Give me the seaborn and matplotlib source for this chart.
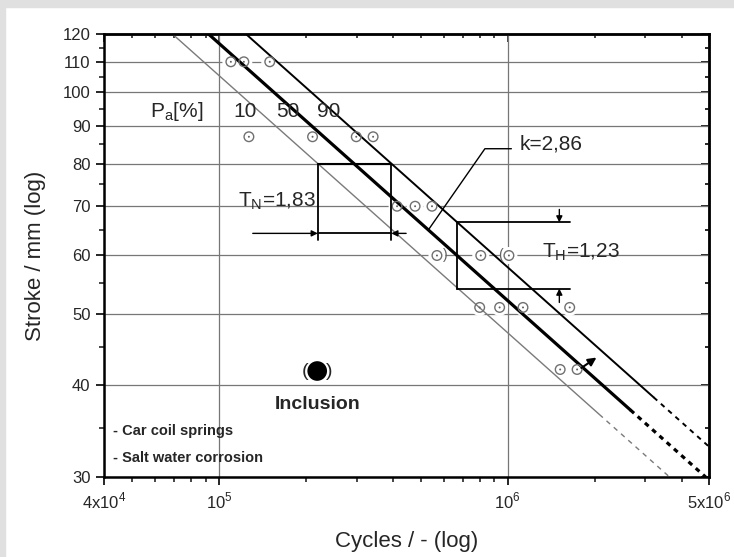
import numpy as np
import pandas as pd
import matplotlib
matplotlib.use('Agg')
import matplotlib.pyplot as plt
import seaborn as sns
from matplotlib.patches import Rectangle
from matplotlib.ticker import FixedLocator, NullFormatter

# test results: stroke level (mm) and cycles to failure
stroke = [110, 110, 110, 87, 87, 87, 87, 70, 70, 70, 60, 60, 60, 51, 51, 51, 51, 42, 42]
cycles = [1.10e5, 1.22e5, 1.50e5, 1.27e5, 2.11e5, 2.99e5, 3.42e5, 4.14e5, 4.78e5, 5.47e5,
          5.69e5, 8.07e5, 1.01e6, 8.0e5, 9.38e5, 1.13e6, 1.64e6, 1.52e6, 1.74e6]

# inclusion failure
incl_cycles = 2.19e5
incl_stroke = 41.8

# S-N lines for Pa = 10 / 50 / 90 %
levels = ["10", "50", "90"]
n_at_120 = [6.9e4, 9.2e4, 1.24e5]
solid_end = [36.5, 37.0, 38.5]
k_slope = 2.86
t_n = 1.83
t_h = 1.23

y_ticks = [30, 40, 50, 60, 70, 80, 90, 100, 110, 120]
y_minor = [35, 45, 55, 65, 75, 85, 95, 105, 115]
x_ticks = [4e4, 1e5, 1e6, 5e6]
x_labels = ['4x10$^\\mathregular{4}$', '10$^\\mathregular{5}$', '10$^\\mathregular{6}$', '5x10$^\\mathregular{6}$']
x_minor = [5e4, 6e4, 7e4, 8e4, 9e4, 2e5, 3e5, 4e5, 5e5, 6e5, 7e5, 8e5, 9e5, 2e6, 3e6, 4e6]


def n_at(i, s):
    return n_at_120[i] * (120.0 / s) ** k_slope


sns.set_style('white')
plt.rcParams['font.family'] = ['Liberation Sans', 'DejaVu Sans']
plt.rcParams['mathtext.fontset'] = 'custom'
plt.rcParams['mathtext.rm'] = 'Liberation Sans'
plt.rcParams['lines.scale_dashes'] = False

fig = plt.figure(figsize=(7.34, 5.57), dpi=100)
ax = fig.add_axes([0.1417, 0.1436, 0.9666 - 0.1417, 0.939 - 0.1436])

# screenshot frame (top / left)
fig.patches.append(Rectangle((0, 1 - 7 / 557), 1, 7 / 557, transform=fig.transFigure, color='#e0e0e0', zorder=-1))
fig.patches.append(Rectangle((0, 0), 5 / 734, 1, transform=fig.transFigure, color='#e0e0e0', zorder=-1))

ax.set_xscale('log')
ax.set_yscale('log')
ax.set_xlim(4e4, 5e6)
ax.set_ylim(30, 120)

df = pd.DataFrame({'cycles': cycles, 'stroke': stroke})

# white halo around specimens (breaks the grid)
sns.scatterplot(data=df, x='cycles', y='stroke', s=150, color='white', edgecolor='none', ax=ax, zorder=1.5)

line_colors = ['#7a7a7a', 'black', 'black']
line_widths = [1.0, 2.3, 1.4]
for i in range(3):
    s_solid = [120, solid_end[i]]
    s_dash = [solid_end[i], 30]
    sns.lineplot(x=[n_at(i, s) for s in s_solid], y=s_solid, color=line_colors[i],
                 lw=line_widths[i], ax=ax, zorder=2, estimator=None)
    sns.lineplot(x=[n_at(i, s) for s in s_dash], y=s_dash, color=line_colors[i],
                 lw=line_widths[i], linestyle=(0, (3.5, 3.5)), ax=ax, zorder=2, estimator=None)

sns.scatterplot(data=df, x='cycles', y='stroke', s=48, facecolor='none', edgecolor='#707070',
                linewidth=1.0, ax=ax, zorder=3)
sns.scatterplot(data=df, x='cycles', y='stroke', s=2, color='#606060', edgecolor='none', ax=ax, zorder=3)

# inclusion
sns.scatterplot(x=[incl_cycles], y=[incl_stroke], s=200, color='black', edgecolor='none', ax=ax, zorder=3)
ax.annotate('(', (incl_cycles, incl_stroke), xytext=(-6.5, 0), textcoords='offset points',
            ha='right', va='center', fontsize=14)
ax.annotate(')', (incl_cycles, incl_stroke), xytext=(6.5, 0), textcoords='offset points',
            ha='left', va='center', fontsize=14)
ax.text(incl_cycles, 37.7, 'Inclusion', ha='center', va='center', fontsize=14, fontweight='bold')
ax.annotate('', xy=(2.03e6, 43.6), xytext=(1.8e6, 42.2),
            arrowprops=dict(arrowstyle='-|>', color='black', lw=1.5, mutation_scale=12, shrinkA=0, shrinkB=0))

# runout brackets
ax.annotate(')', (5.69e5, 60), xytext=(4.5, 0), textcoords='offset points', ha='left', va='center',
            fontsize=10, color='#606060')
ax.annotate('(', (1.01e6, 60), xytext=(-4.5, 0), textcoords='offset points', ha='right', va='center',
            fontsize=10, color='#606060')

ax.text(4.31e4, 34.7, '- Car coil springs', fontsize=10.5, fontweight='bold', va='center')
ax.text(4.31e4, 31.8, '- Salt water corrosion', fontsize=10.5, fontweight='bold', va='center')

# Pa labels
ax.text(5.78e4, 92.6, 'P$_\\mathregular{a}$[%]', fontsize=15, va='baseline')
for lab, xn in zip(levels, [1.12e5, 1.573e5, 2.19e5]):
    ax.text(xn, 92.6, lab, fontsize=15, va='baseline')

# scatter band in cycles T_N at 80 mm
n10 = n_at(0, 80)
n90 = n_at(2, 80)
ax.plot([n10, n90], [80, 80], color='black', lw=1.5, zorder=4)
ax.plot([n10, n10], [80, 63], color='black', lw=1.3, zorder=4)
ax.plot([n90, n90], [80, 63], color='black', lw=1.3, zorder=4)
ax.plot([n10, n90], [64.3, 64.3], color='black', lw=1.3, zorder=4)
arrow = dict(arrowstyle='-|>', color='black', lw=1.0, mutation_scale=9, shrinkA=0, shrinkB=0)
ax.annotate('', xy=(n10, 64.3), xytext=(1.31e5, 64.3), arrowprops=arrow, zorder=4)
ax.annotate('', xy=(n90, 64.3), xytext=(4.45e5, 64.3), arrowprops=arrow, zorder=4)
ax.text(1.16e5, 70, 'T$_\\mathregular{N}$=' + str(t_n).replace('.', ','), fontsize=15, va='baseline')

# scatter band in stroke T_H at 60 mm
n50 = n_at(1, 60)
s_hi = 60 * np.sqrt(t_h)
s_lo = 60 / np.sqrt(t_h)
ax.plot([n50, n50], [s_hi, s_lo], color='black', lw=1.3, zorder=4)
ax.plot([n50, 1.65e6], [s_hi, s_hi], color='black', lw=1.3, zorder=4)
ax.plot([n50, 1.65e6], [s_lo, s_lo], color='black', lw=1.3, zorder=4)
ax.annotate('', xy=(1.51e6, s_hi), xytext=(1.51e6, 69.3), arrowprops=arrow, zorder=4)
ax.annotate('', xy=(1.51e6, s_lo), xytext=(1.51e6, 51.8), arrowprops=arrow, zorder=4)
ax.text(1.31e6, 59.7, 'T$_\\mathregular{H}$=' + str(t_h).replace('.', ','), fontsize=15, va='baseline')

# slope label
ax.plot([1.03e6, 8.34e5, n_at(1, 65)], [83.8, 83.8, 65], color='black', lw=1.0, zorder=4)
ax.text(1.1e6, 85, 'k=' + str(k_slope).replace('.', ','), fontsize=15, va='center')

# axes styling
ax.yaxis.set_major_locator(FixedLocator(y_ticks))
ax.set_yticklabels([str(v) for v in y_ticks])
ax.yaxis.set_minor_locator(FixedLocator(y_minor))
ax.yaxis.set_minor_formatter(NullFormatter())
ax.xaxis.set_major_locator(FixedLocator(x_ticks))
ax.set_xticklabels(x_labels)
ax.xaxis.set_minor_locator(FixedLocator(x_minor))
ax.xaxis.set_minor_formatter(NullFormatter())

ax.set_axisbelow(True)
ax.grid(True, which='major', color='#777777', lw=0.9)
ax.tick_params(which='major', direction='out', length=5.8, width=1.4, labelsize=12, pad=4,
               top=False, right=False, bottom=True, left=True)
ax.tick_params(which='minor', direction='out', length=3.6, width=1.2, top=False, right=False,
               bottom=True, left=True)
for sp in ax.spines.values():
    sp.set_linewidth(1.8)
    sp.set_color('black')

top = ax.secondary_xaxis('top')
top.xaxis.set_major_locator(FixedLocator(x_ticks))
top.xaxis.set_minor_locator(FixedLocator(x_minor))
top.tick_params(which='both', direction='in', labeltop=False, width=1.2)
top.tick_params(which='major', length=5.5)
top.tick_params(which='minor', length=3.2)
top.spines['top'].set_linewidth(1.8)
right = ax.secondary_yaxis('right')
right.yaxis.set_major_locator(FixedLocator(y_ticks))
right.yaxis.set_minor_locator(FixedLocator(y_minor))
right.tick_params(which='both', direction='in', labelright=False, width=1.4)
right.tick_params(which='major', length=5.5)
right.tick_params(which='minor', length=3.2)
right.spines['right'].set_linewidth(1.8)

ax.set_xlabel('Cycles / - (log)', fontsize=16, labelpad=14)
ax.set_ylabel('Stroke / mm (log)', fontsize=16, labelpad=12)

plt.savefig('out.png', dpi=100)
